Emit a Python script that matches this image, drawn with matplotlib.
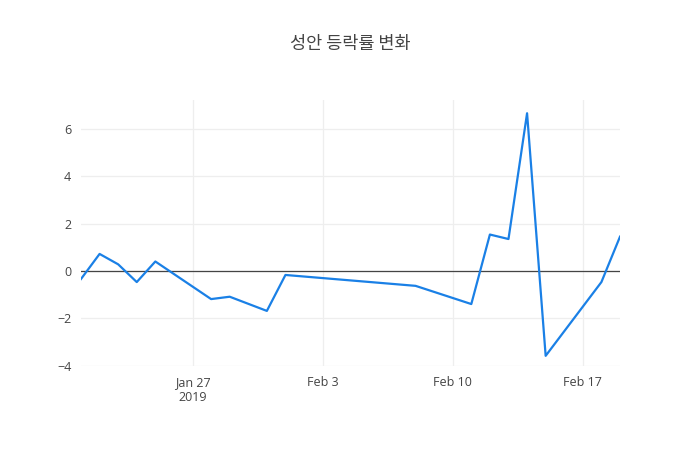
import matplotlib.pyplot as plt
import matplotlib.dates as mdates
import numpy as np
import pandas as pd

# daily change rate (%)
dates = pd.to_datetime([
    "2019-01-21", "2019-01-22", "2019-01-23", "2019-01-24", "2019-01-25",
    "2019-01-28", "2019-01-29", "2019-01-31", "2019-02-01", "2019-02-08",
    "2019-02-11", "2019-02-12", "2019-02-13", "2019-02-14", "2019-02-15",
    "2019-02-18", "2019-02-19",
])
rates = [-0.34, 0.72, 0.28, -0.47, 0.40,
         -1.19, -1.09, -1.69, -0.17, -0.63,
         -1.40, 1.54, 1.35, 6.67, -3.59,
         -0.47, 1.45]

tick_dates = pd.to_datetime(["2019-01-27", "2019-02-03", "2019-02-10", "2019-02-17"])
tick_labels = ["Jan 27\n2019", "Feb 3", "Feb 10", "Feb 17"]
y_ticks = [-4, -2, 0, 2, 4, 6]

title = "성안 등락률 변화"

fig = plt.figure(figsize=(7, 4.5), dpi=100)
ax = fig.add_axes([81/700, 84/450, 539/700, 266/450])

ax.plot(dates, rates, color="#1a80e6", linewidth=1.6, zorder=3)
ax.axhline(0, color="#444444", linewidth=0.9, zorder=2)

ax.set_xlim(dates[0], dates[-1])
ax.set_ylim(-4.02, 7.23)
ax.set_xticks(tick_dates)
ax.set_xticklabels(tick_labels)
ax.set_yticks(y_ticks)

ax.grid(True, color="#eeeeee", linewidth=0.9, zorder=0)
for s in ax.spines.values():
    s.set_visible(False)
ax.tick_params(length=0, labelsize=9, labelcolor="#444444", pad=7)
for lab in ax.get_xticklabels() + ax.get_yticklabels():
    lab.set_family(["Open Sans", "DejaVu Sans"])
for lab in ax.get_xticklabels():
    lab.set_linespacing(1.2)

fig.text(0.5, 1 - 44/450, title, ha="center", va="center", fontsize=12.6,
         color="#444444", family=["Noto Sans CJK KR", "DejaVu Sans"])

fig.savefig("out.png", dpi=100)
